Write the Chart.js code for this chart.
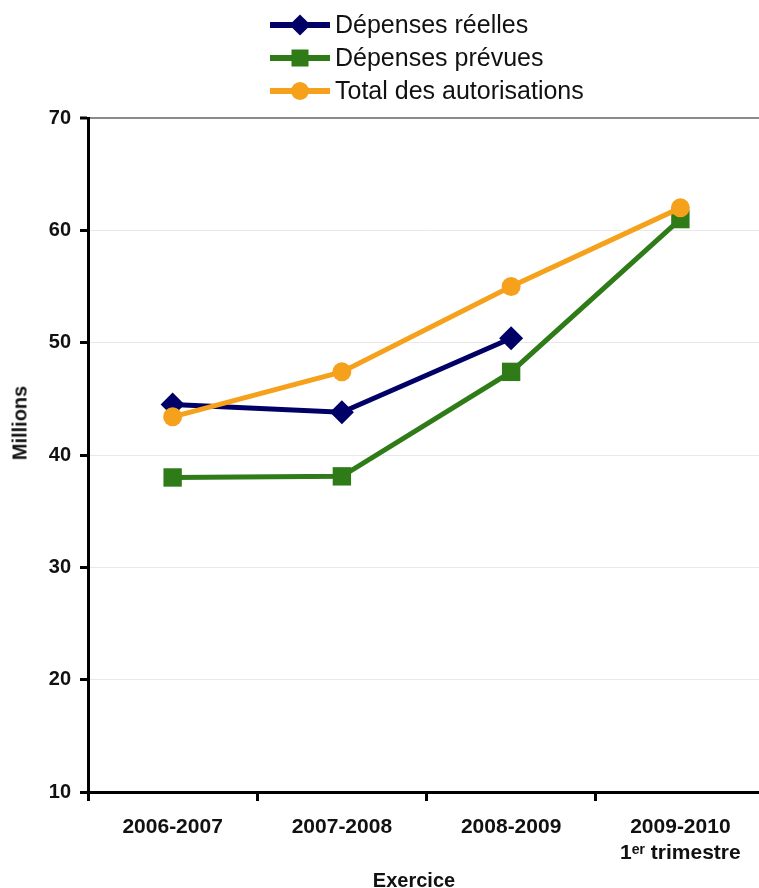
<!DOCTYPE html>
<html><head><meta charset="utf-8">
<script src="https://cdn.jsdelivr.net/npm/chart.js@4.4.0/dist/chart.umd.min.js"></script>
<style>
html,body{margin:0;padding:0;background:#fff;overflow:hidden;}
#wrap{position:relative;width:778px;height:888px;}
#c{position:absolute;left:0;top:0;}
#legend{position:absolute;left:270px;top:8px;font-family:"Liberation Sans",Arial,sans-serif;font-size:25px;color:#111;}
.item{display:flex;align-items:center;height:33px;}
.sym{position:relative;width:60px;height:26px;margin-right:5px;}
.sym .ln{position:absolute;left:0;right:0;top:10px;height:6px;}
.sym .mk{position:absolute;left:50%;top:50%;}
.ytitle{position:absolute;left:20px;top:423px;transform:translate(-50%,-50%) rotate(-90deg);font:bold 20px "Liberation Sans",Arial,sans-serif;color:#111;white-space:nowrap;}
.xtitle{position:absolute;left:414px;top:880px;transform:translate(-50%,-50%);font:bold 20px "Liberation Sans",Arial,sans-serif;color:#111;white-space:nowrap;}
</style></head>
<body>
<div id="wrap">
<canvas id="c" width="778" height="888"></canvas>
<div id="legend"></div>
<div class="ytitle">Millions</div>
<div class="xtitle">Exercice</div>
</div>
<script>
// ---- data ----
const categories = [["2006-2007"], ["2007-2008"], ["2008-2009"], ["2009-2010", "1ᵉʳ trimestre"]];
const seriesNames = ["Dépenses réelles", "Dépenses prévues", "Total des autorisations"];
const depensesReelles = [44.5, 43.8, 50.4, null];
const depensesPrevues = [38.0, 38.1, 47.4, 61.0];
const totalAutorisations = [43.4, 47.4, 55.0, 62.0];
const yMin = 10, yMax = 70, yStep = 10;

// ---- styles ----
const colors = ["#000066", "#2e7b17", "#f5a11c"];
const styles = ["rectRot", "rect", "circle"];
const radii = [12, 13, 9.5];

const values = [depensesReelles, depensesPrevues, totalAutorisations];
const datasets = values.map((v, i) => ({
  label: seriesNames[i],
  data: v,
  borderColor: colors[i],
  backgroundColor: colors[i],
  borderWidth: 5,
  pointStyle: styles[i],
  pointRadius: radii[i],
  pointHoverRadius: radii[i],
  pointBorderWidth: 0,
  pointBackgroundColor: colors[i],
  tension: 0,
  spanGaps: false,
  order: [2, 1, 0][i]
}));

// HTML legend
const lg = document.getElementById('legend');
seriesNames.forEach((n, i) => {
  const it = document.createElement('div'); it.className = 'item';
  const sym = document.createElement('div'); sym.className = 'sym';
  const ln = document.createElement('div'); ln.className = 'ln'; ln.style.background = colors[i];
  const mk = document.createElement('div'); mk.className = 'mk';
  mk.style.background = colors[i];
  if (i === 0) { mk.style.width = '15px'; mk.style.height = '15px'; mk.style.transform = 'translate(-50%,-50%) rotate(45deg)'; }
  else if (i === 1) { mk.style.width = '17px'; mk.style.height = '17px'; mk.style.transform = 'translate(-50%,-50%)'; }
  else { mk.style.width = '18px'; mk.style.height = '18px'; mk.style.borderRadius = '50%'; mk.style.transform = 'translate(-50%,-50%)'; }
  sym.appendChild(ln); sym.appendChild(mk);
  const t = document.createElement('span'); t.textContent = n;
  it.appendChild(sym); it.appendChild(t);
  lg.appendChild(it);
});

const tickFont = { family: "'Liberation Sans', Arial, sans-serif", size: 20, weight: 'bold' };
const xTickFont = { family: "'Liberation Sans', Arial, sans-serif", size: 21, weight: 'bold', lineHeight: 1.25 };

new Chart(document.getElementById('c'), {
  type: 'line',
  data: { labels: categories, datasets },
  options: {
    responsive: false,
    animation: false,
    events: [],
    layout: { padding: { top: 118, right: 1, bottom: 0, left: 0 } },
    plugins: { legend: { display: false }, tooltip: { enabled: false } },
    scales: {
      x: {
        type: 'category',
        offset: true,
        grid: { offset: true, drawOnChartArea: false, color: '#000', tickColor: '#000', tickLength: 9, tickWidth: 3, lineWidth: 3 },
        border: { color: '#000', width: 3 },
        ticks: { font: xTickFont, color: '#111', padding: 13, maxRotation: 0, autoSkip: false },
        afterFit: (s) => { s.height = 96; }
      },
      y: {
        min: yMin, max: yMax,
        grid: {
          color: (c) => c.tick && c.tick.value === yMax ? '#8a8a8a' : (c.tick && c.tick.value === yMin ? 'rgba(0,0,0,0)' : '#e8e8e8'),
          lineWidth: (c) => c.tick && c.tick.value === yMax ? 2 : 1,
          tickColor: '#000', tickLength: 8, tickWidth: 3
        },
        border: { color: '#000', width: 3 },
        ticks: { stepSize: yStep, font: tickFont, color: '#111', padding: 9 },
        afterFit: (s) => { s.width = 88; }
      }
    }
  }
});
</script>
</body></html>
